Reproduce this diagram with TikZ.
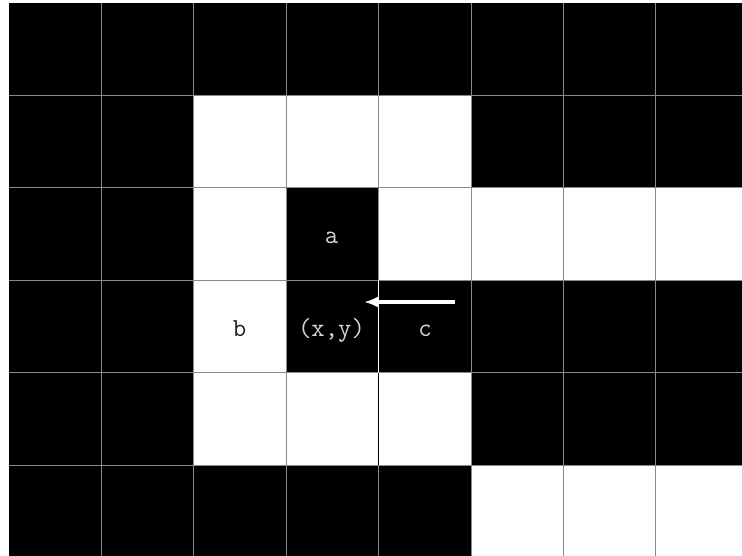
\documentclass[tikz,border=0pt]{standalone}
\usepackage{fontspec}
\usetikzlibrary{arrows.meta}
\definecolor{gridgray}{HTML}{8A8A8A}
\definecolor{lighttext}{HTML}{D4D4D8}
\definecolor{darktext}{HTML}{202020}
\tikzset{
  lbl/.style={font=\ttfamily\fontsize{26}{26}\selectfont, anchor=base, inner sep=0pt},
  gridline/.style={draw=gridgray, line width=1pt},
  whitecell/.style={fill=white},
  pointer/.style={draw=white, line width=3.5pt, -{Latex[length=14pt,width=11pt]}}
}
\begin{document}
\begin{tikzpicture}[x=1pt,y=-1pt]
\useasboundingbox (0,0) rectangle (742,556);
\fill[white] (0,0) rectangle (742,556);
\fill[black] (9,3) rectangle (742,556);
\foreach \i/\j in {2/1,3/1,4/1,2/2,4/2,5/2,6/2,7/2,2/3,2/4,3/4,4/4,5/5,6/5,7/5}
  \fill[whitecell] ({9+92.4*\i},{3+92.4*\j}) rectangle ({9+92.4*(\i+1)},{3+92.4*(\j+1)});
\foreach \i in {1,...,7}
  \draw[gridline] ({9+92.4*\i},3) -- ({9+92.4*\i},556);
\foreach \j in {1,...,5}
  \draw[gridline] (9,{3+92.4*\j}) -- (742,{3+92.4*\j});
\draw[white, line width=1pt] (378.6,280.2) -- (378.6,372.6);
\draw[black, line width=1pt] (378.6,372.6) -- (378.6,465);
\node[lbl, text=lighttext] (a) at (331.5,243.5) {a};
\node[lbl, text=lighttext] (xy) at (331.5,336) {(x,y)};
\node[lbl, text=lighttext] (c) at (425,336) {c};
\node[lbl, text=darktext] (b) at (239.5,336) {b};
\coordinate (tail) at (455,302);
\coordinate (tip) at (364,302);
\draw[pointer] (tail) -- (tip);
\end{tikzpicture}
\end{document}
